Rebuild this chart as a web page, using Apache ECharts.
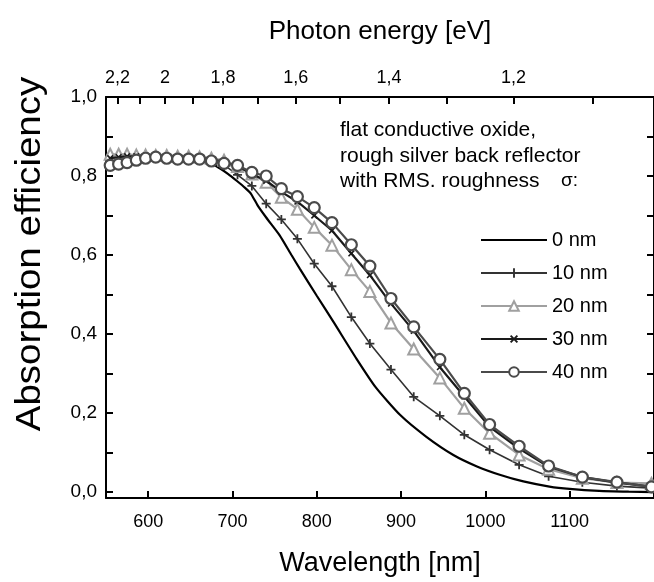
<!DOCTYPE html>
<html><head><meta charset="utf-8">
<script src="https://cdn.jsdelivr.net/npm/echarts@6/dist/echarts.min.js"></script>
<style>html,body{margin:0;padding:0;background:#fff}#c{width:654px;height:582px}</style>
</head><body><div id="c"></div>
<script>
// Data
const wavelength = [555,565,575,586,597,609,622,635,648,661,675,690,706,723,740,758,777,797,818,841,863,888,915,946,975,1005,1040,1075,1115,1156,1197];
const sigma10 = [0.845,0.846,0.848,0.848,0.850,0.850,0.850,0.848,0.846,0.845,0.840,0.828,0.803,0.775,0.730,0.690,0.641,0.578,0.521,0.443,0.376,0.310,0.241,0.193,0.145,0.107,0.069,0.040,0.025,0.015,0.010];
const sigma20 = [0.855,0.855,0.855,0.853,0.853,0.852,0.852,0.850,0.850,0.848,0.845,0.840,0.824,0.805,0.784,0.746,0.716,0.670,0.625,0.563,0.508,0.428,0.362,0.289,0.212,0.149,0.094,0.058,0.035,0.024,0.022];
const sigma30 = [0.845,0.848,0.850,0.850,0.852,0.852,0.850,0.848,0.848,0.846,0.842,0.836,0.825,0.805,0.788,0.760,0.735,0.700,0.662,0.604,0.549,0.477,0.408,0.316,0.242,0.165,0.110,0.064,0.038,0.024,0.014];
const sigma40 = [0.827,0.830,0.834,0.840,0.845,0.848,0.845,0.843,0.843,0.843,0.838,0.832,0.827,0.809,0.800,0.768,0.748,0.720,0.682,0.626,0.572,0.490,0.418,0.336,0.250,0.171,0.116,0.066,0.038,0.025,0.013];
const wavelength0 = [555,580,610,640,665,680,695,705,715,722,730,740,756,770,780,800,820,847,870,899,930,962,990,1017,1045,1076,1100,1135,1170,1200];
const sigma0 = [0.835,0.840,0.845,0.843,0.840,0.826,0.805,0.788,0.770,0.755,0.725,0.695,0.650,0.600,0.565,0.497,0.430,0.338,0.265,0.195,0.140,0.094,0.065,0.044,0.027,0.014,0.008,0.003,0.001,0.0];
const seriesNames = ['0 nm','10 nm','20 nm','30 nm','40 nm'];
const wlTickLabels = [600,700,800,900,1000,1100];
const energyTicks = [2.2,2.1,2.0,1.9,1.8,1.7,1.6,1.5,1.4,1.3,1.2,1.1];
const energyLabels = [2.2,2.0,1.8,1.6,1.4,1.2];
const yLabels = [0,0.2,0.4,0.6,0.8,1.0];
const yTicks = [0,0.1,0.2,0.3,0.4,0.5,0.6,0.7,0.8,0.9,1.0];
const annotation = ['flat conductive oxide,','rough silver back reflector','with RMS. roughness'];

const HC = 1240;
const FONT = "'Liberation Sans', Arial, sans-serif";
const pair = (xs, ys) => xs.map((x,i)=>[x, ys[i]]);
const fmtComma = v => String(v).replace('.', ',');
const energyToWl = e => HC / e;
const plusPath = 'path://M-1,-5 h2 v4 h4 v2 h-4 v4 h-2 v-4 h-4 v-2 h4 z';

const chart = echarts.init(document.getElementById('c'), null, {renderer:'canvas'});
const mkLine = () => ({show:true, onZero:false, lineStyle:{color:'#000', width:2}});
const mkTick = vals => ({inside:true, length:7, lineStyle:{color:'#000', width:2}, customValues: vals});
const option = {
  animation:false,
  backgroundColor:'#fff',
  textStyle:{fontFamily:FONT},
  grid:{left:106, top:97, right:-1, bottom:83},
  xAxis:[
    {type:'value', position:'bottom', min:550, max:1200,
     axisLine:mkLine(), splitLine:{show:false},
     axisTick:mkTick(wlTickLabels),
     axisLabel:{customValues: wlTickLabels, fontSize:18, color:'#000', margin:15, fontFamily:FONT,
       formatter: v => String(v)},
     name:'Wavelength [nm]', nameLocation:'middle', nameGap:52,
     nameTextStyle:{fontSize:27, color:'#000', fontFamily:FONT}},
    {type:'value', position:'top', min:550, max:1200,
     axisLine:mkLine(), splitLine:{show:false},
     axisTick:mkTick(energyTicks.map(energyToWl)),
     axisLabel:{customValues: energyLabels.map(energyToWl), fontSize:18, color:'#000', margin:10, fontFamily:FONT,
       formatter: v => fmtComma(Math.round(HC / v * 10) / 10)},
     name:'Photon energy [eV]', nameLocation:'middle', nameGap:52,
     nameTextStyle:{fontSize:26, color:'#000', fontFamily:FONT}}
  ],
  yAxis:[
    {type:'value', position:'left', min:-0.015, max:1.0,
     axisLine:mkLine(), splitLine:{show:false},
     axisTick:mkTick(yTicks),
     axisLabel:{customValues: yLabels, fontSize:19, color:'#000', margin:9, fontFamily:FONT,
       formatter: v => v.toFixed(1).replace('.', ',')}},
    {type:'value', position:'right', min:-0.015, max:1.0,
     axisLine:mkLine(), splitLine:{show:false},
     axisTick:mkTick(yTicks),
     axisLabel:{show:false}}
  ],
  legend:{
    orient:'vertical', left:475, top:225, itemWidth:66, itemHeight:12, itemGap:13,
    textStyle:{fontSize:20, color:'#000', fontFamily:FONT},
    data: seriesNames
  },
  graphic:[
    ...annotation.map((t,i)=>({type:'text', left:340, top:120 + i*25.5,
      style:{text:t, fontSize:21, fill:'#000', fontFamily:FONT}})),
    {type:'text', left:561, top:171, style:{text:'σ:', fontSize:19, fill:'#000', fontFamily:FONT}},
    {type:'text', x:48, y:254, rotation:Math.PI/2, scaleX:1.1,
      style:{text:'Absorption efficiency', fontSize:35, fill:'#000', fontFamily:FONT, align:'center', verticalAlign:'bottom'}}
  ],
  series:[
    {name:seriesNames[0], type:'line', data:pair(wavelength0, sigma0), symbol:'none', smooth:0.2,
     lineStyle:{color:'#000', width:2.2}, itemStyle:{color:'rgba(0,0,0,0)'}, z:2},
    {name:seriesNames[1], type:'line', data:pair(wavelength, sigma10), symbol:plusPath, symbolSize:9,
     lineStyle:{color:'#333', width:1.6}, itemStyle:{color:'#333', borderWidth:0}, z:3},
    {name:seriesNames[2], type:'line', data:pair(wavelength, sigma20), symbol:'triangle', symbolSize:11,
     lineStyle:{color:'#a0a0a0', width:2.2}, itemStyle:{color:'#fff', borderColor:'#a0a0a0', borderWidth:2}, z:4},
    {name:seriesNames[3], type:'line', data:pair(wavelength, sigma30), symbol:plusPath, symbolRotate:45, symbolSize:8,
     lineStyle:{color:'#1a1a1a', width:2.2}, itemStyle:{color:'#1a1a1a', borderWidth:0}, z:5},
    {name:seriesNames[4], type:'line', data:pair(wavelength, sigma40), symbol:'circle', symbolSize:11,
     lineStyle:{color:'#4a4a4a', width:2.2}, itemStyle:{color:'#fff', borderColor:'#4a4a4a', borderWidth:2.2}, z:6}
  ]
};
chart.setOption(option);
</script></body></html>
